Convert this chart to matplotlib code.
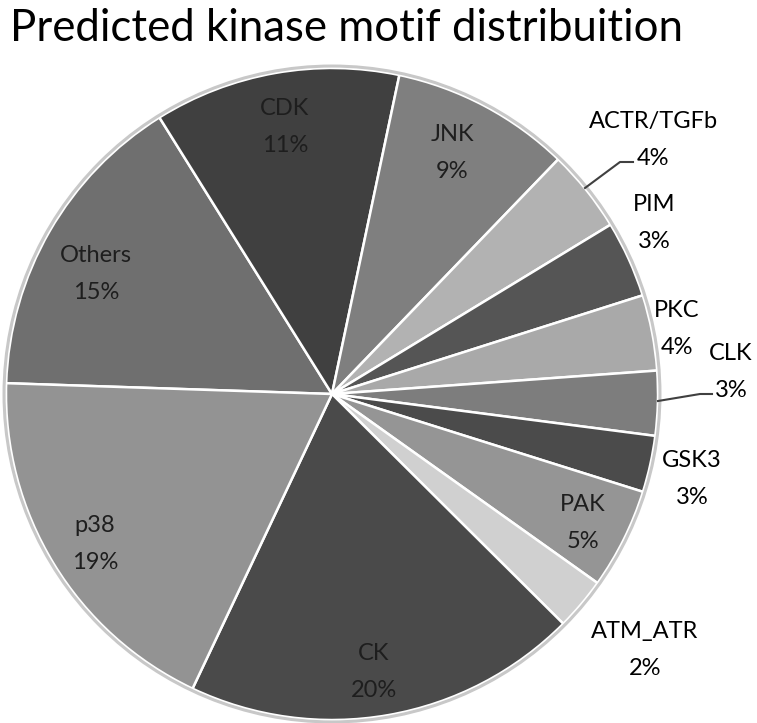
import matplotlib.pyplot as plt
from matplotlib.patches import Circle

# slices clockwise, starting from the left edge of the pie
kinases = ["Others", "CDK", "JNK", "ACTR/TGFb", "PIM", "PKC", "CLK", "GSK3",
           "PAK", "ATM_ATR", "CK", "p38"]
shares = [15.6, 12.2, 8.9, 4.1, 3.8, 3.75, 3.2, 2.8, 5.0, 2.6, 19.6, 18.5]
pct_labels = ["15%", "11%", "9%", "4%", "3%", "4%", "3%", "3%", "5%", "2%", "20%", "19%"]
grays = ["#6f6f6f", "#404040", "#7f7f7f", "#b2b2b2", "#555555", "#a9a9a9",
         "#7d7d7d", "#4b4b4b", "#959595", "#d0d0d0", "#4a4a4a", "#939393"]

# label block centres in pixels of the 757x723 picture
label_px = [(96, 272), (285, 125), (452, 151), (653, 138), (654, 221), (677, 327),
            (731, 370), (692, 477), (583, 521), (645, 648), (374, 670), (95, 542)]
inside = [True, True, True, False, False, False, False, False, True, False, True, True]

W, H = 757, 723
CX, CY, R = 332, 394, 326  # pie centre and radius in pixels


def px(x, y):
    return (x - CX) / R, (CY - y) / R


fig = plt.figure(figsize=(W / 100, H / 100), dpi=100)
ax = fig.add_axes([0, 0, 1, 1])

wedges, _ = ax.pie(shares, colors=grays, startangle=178.1, counterclock=False,
                   wedgeprops=dict(edgecolor="white", linewidth=1.8))
ax.add_patch(Circle((0, 0), 1.006, fill=False, edgecolor="#c8c8c8", linewidth=2.2))

for name, pct, (x, y), ins in zip(kinases, pct_labels, label_px, inside):
    color = "#1e1e1e" if ins else "black"
    ax.text(*px(x, y - 10), name, ha="center", va="baseline", fontsize=17,
            family="Lato", color=color)
    ax.text(*px(x, y + 27), pct, ha="center", va="baseline", fontsize=17,
            family="Lato", color=color)

# leader lines for the two small slices
for pts in ([(585, 188), (620, 162), (633, 162)], [(658, 401), (700, 394), (712, 394)]):
    xs, ys = zip(*[px(*p) for p in pts])
    ax.plot(xs, ys, color="#404040", linewidth=1.5)

ax.set_xlim(-CX / R, (W - CX) / R)
ax.set_ylim(-(H - CY) / R, CY / R)
ax.set_aspect("equal")
ax.axis("off")

fig.text(10 / W, 1 - 41 / H, "Predicted kinase motif distribuition", fontsize=31.5,
         family="Lato", va="baseline")

fig.savefig("out.png", dpi=100)
